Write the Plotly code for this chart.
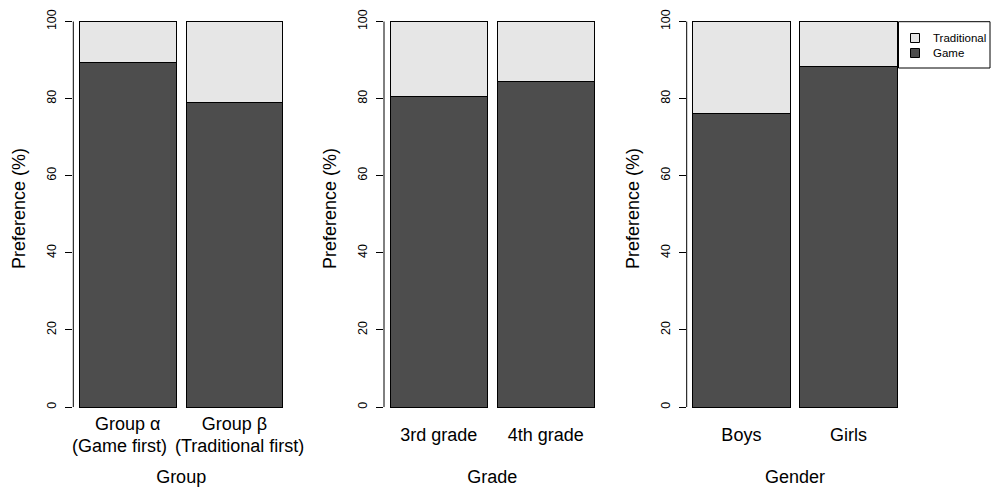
import plotly.graph_objects as go

# ---- data ----
group_labels = ["Group α", "Group β"]
group_sublabels = ["(Game first)", "(Traditional first)"]
group_game = [89.4, 78.9]
group_trad = [10.6, 21.1]

grade_labels = ["3rd grade", "4th grade"]
grade_game = [80.6, 84.5]
grade_trad = [19.4, 15.5]

gender_labels = ["Boys", "Girls"]
gender_game = [76.1, 88.3]
gender_trad = [23.9, 11.7]

x_titles = ["Group", "Grade", "Gender"]
y_title = "Preference (%)"
y_ticks = [0, 20, 40, 60, 80, 100]
legend_names = ["Traditional", "Game"]

GAME_COLOR = "#4D4D4D"
TRAD_COLOR = "#E6E6E6"
FONT = "Liberation Sans, Arial, Helvetica, sans-serif"

W, H = 991, 487
panels = [
    (group_labels, group_game, group_trad),
    (grade_labels, grade_game, grade_trad),
    (gender_labels, gender_game, gender_trad),
]
# pixel domains of the plot regions
x_dom_px = [(73.3, 289.0), (384.0, 600.4), (686.7, 903.1)]
y_dom = [(H - 410.9) / H, (H - 6.1) / H]

fig = go.Figure()
for i, (labels, game, trad) in enumerate(panels):
    xa = "x" if i == 0 else f"x{i+1}"
    ya = "y" if i == 0 else f"y{i+1}"
    fig.add_trace(go.Bar(
        x=labels, y=game, name="Game", xaxis=xa, yaxis=ya,
        marker=dict(color=GAME_COLOR, line=dict(color="black", width=1)),
        showlegend=False, hoverinfo="skip",
    ))
    fig.add_trace(go.Bar(
        x=labels, y=trad, name="Traditional", xaxis=xa, yaxis=ya,
        marker=dict(color=TRAD_COLOR, line=dict(color="black", width=1)),
        showlegend=False, hoverinfo="skip",
    ))

layout = dict(
    width=W, height=H,
    margin=dict(l=0, r=0, t=0, b=0),
    paper_bgcolor="white", plot_bgcolor="white",
    barmode="stack", bargap=0.091,
    font=dict(family=FONT, color="black"),
    showlegend=False,
)

shapes = []
annotations = []
std_x = [0, 11, 11]
title_std = [44, 35, 35]
for i in range(3):
    sfx = "" if i == 0 else str(i + 1)
    x0, x1 = x_dom_px[i]
    layout["xaxis" + sfx] = dict(
        domain=[x0 / W, x1 / W], anchor="y" + sfx, automargin=False,
        range=[-0.511, 1.511], type="category",
        showline=False, showgrid=False, zeroline=False, ticks="",
        tickangle=0,
        tickfont=dict(size=18), ticklabelstandoff=std_x[i],
        title=dict(text=x_titles[i], font=dict(size=18), standoff=title_std[i]),
    )
    layout["yaxis" + sfx] = dict(
        domain=y_dom, anchor="x" + sfx, automargin=False,
        range=[-1, 104], showline=False, showgrid=False, zeroline=False,
        tickvals=y_ticks, ticks="outside", ticklen=7, tickcolor="black", tickwidth=1,
        tickangle=-90, tickfont=dict(size=12.5), ticklabelstandoff=4,
        title=dict(text=y_title, font=dict(size=18), standoff=14),
    )
    shapes.append(dict(
        type="line", xref=f"x{sfx} domain", yref="y" + sfx,
        x0=0, x1=0, y0=0, y1=100, line=dict(color="black", width=1),
    ))

# second line of the group labels
for cat, sub, shift in zip(group_labels, group_sublabels, [-8.5, 5.5]):
    annotations.append(dict(text=sub, xref="x", yref="paper", x=cat, y=1 - 445.5 / H,
                            xanchor="center", yanchor="middle", xshift=shift,
                            showarrow=False, font=dict(size=18, family=FONT)))

# legend box (drawn manually to match the reference placement)
lx0, lx1, ly0, ly1 = 898.5, 990.0, 21.7, 68.0
shapes.append(dict(type="rect", xref="paper", yref="paper",
                   x0=lx0 / W, x1=lx1 / W, y0=1 - ly0 / H, y1=1 - ly1 / H,
                   line=dict(color="black", width=1), fillcolor="white", layer="above"))
for name, color, cy in [(legend_names[0], TRAD_COLOR, 38.0), (legend_names[1], GAME_COLOR, 53.0)]:
    shapes.append(dict(type="rect", xref="paper", yref="paper",
                       x0=(915 - 4.5) / W, x1=(915 + 4.5) / W,
                       y0=1 - (cy - 4.5) / H, y1=1 - (cy + 4.5) / H,
                       line=dict(color="black", width=1), fillcolor=color, layer="above"))
    annotations.append(dict(text=name, xref="paper", yref="paper",
                            x=931.0 / W, y=1 - cy / H, xanchor="left", yanchor="middle",
                            showarrow=False, font=dict(size=11.5, family=FONT)))

layout["shapes"] = shapes
layout["annotations"] = annotations
fig.update_layout(**layout)
fig.write_html("out.html", config={"displayModeBar": False},
               post_script="document.body.style.margin='0';document.body.style.overflow='hidden';")
